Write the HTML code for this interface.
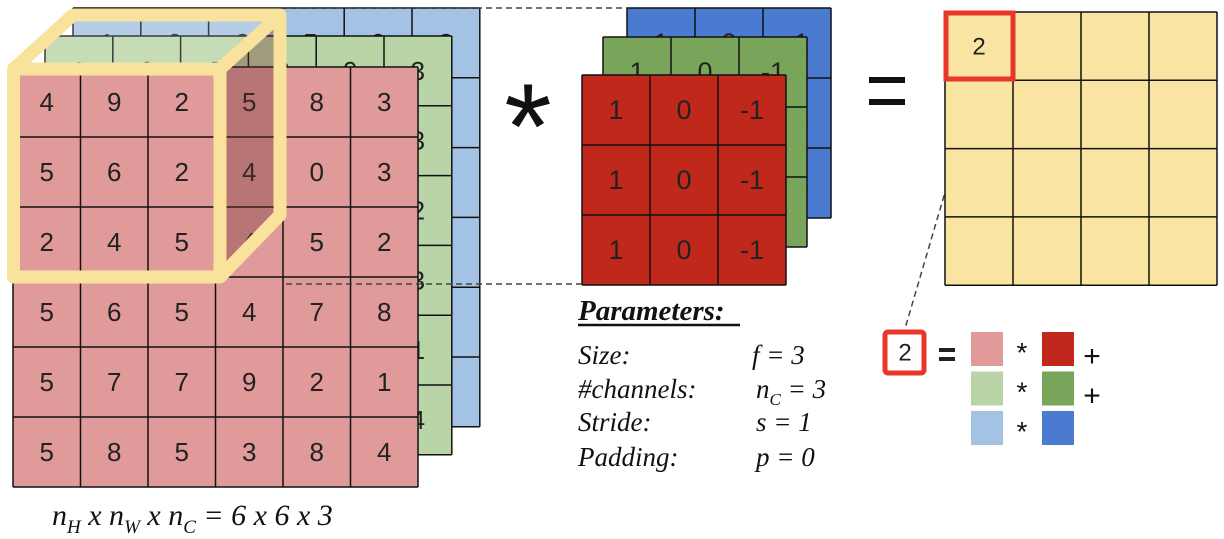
<!DOCTYPE html>
<html><head><meta charset="utf-8">
<style>
html,body{margin:0;padding:0;background:#fff;}
svg{display:block;}
.num{font-family:"Liberation Sans",sans-serif;fill:#222;text-anchor:middle;dominant-baseline:central;}
.ser{font-family:"Liberation Serif",serif;font-style:italic;fill:#111;}
</style></head>
<body>
<svg id="diagram" width="1224" height="539" viewBox="0 0 1224 539" xmlns="http://www.w3.org/2000/svg">
  <g id="layers"></g>
  <g id="cube">
    <polygon points="13,69 73,15 280,15 220,69" fill="rgba(255,255,255,0.18)"/>
    <polygon points="220,69 280,15 280,215 220,277" fill="rgba(110,50,50,0.35)"/>
    <g fill="none" stroke="#f9e29c" stroke-width="13" stroke-linejoin="round">
      <rect x="13.5" y="69" width="206.5" height="208"/>
      <polyline points="13.5,69 73,15 280,15 280,215 220,277"/>
      <line x1="220" y1="69" x2="280" y2="15"/>
    </g>
  </g>
  <g id="dashes" stroke="#444" stroke-width="1.5" stroke-dasharray="6,4" fill="none">
    <line x1="286" y1="8" x2="627" y2="8"/>
    <line x1="286" y1="284" x2="582" y2="284"/>
    <line x1="978" y1="80" x2="904" y2="332"/>
  </g>
  <text x="528" y="168" font-family="Liberation Sans,sans-serif" font-size="122" text-anchor="middle" fill="#111">*</text>
  <g fill="#111">
    <rect x="869" y="77" width="36" height="6"/><rect x="869" y="99" width="36" height="6"/>
  </g>
  <g id="output"></g>
  <rect x="946" y="13" width="67" height="66" fill="none" stroke="#e8372a" stroke-width="5"/>
  <text class="num" x="979" y="47" font-size="24">2</text>

  <g>
    <text class="ser" x="578" y="320" font-size="29" font-weight="bold">Parameters:</text>
    <line x1="578" y1="325" x2="740" y2="325" stroke="#111" stroke-width="2.5"/>
    <text class="ser" x="578" y="364" font-size="27">Size:</text>
    <text class="ser" x="752" y="364" font-size="27">f = 3</text>
    <text class="ser" x="578" y="398" font-size="27">#channels:</text>
    <text class="ser" x="756" y="398" font-size="27">n<tspan font-size="17" dy="7">C</tspan><tspan dy="-7"> = 3</tspan></text>
    <text class="ser" x="578" y="431" font-size="27">Stride:</text>
    <text class="ser" x="756" y="431" font-size="27">s = 1</text>
    <text class="ser" x="578" y="466" font-size="27">Padding:</text>
    <text class="ser" x="756" y="466" font-size="27">p = 0</text>
  </g>

  <text class="ser" x="52" y="525" font-size="30">n<tspan font-size="19" dy="8">H</tspan><tspan dy="-8"> x n</tspan><tspan font-size="19" dy="8">W</tspan><tspan dy="-8"> x n</tspan><tspan font-size="19" dy="8">C</tspan><tspan dy="-8"> =  6 x 6 x 3</tspan></text>

  <g>
    <rect x="885" y="332" width="39" height="41" rx="3" fill="#fff" stroke="#e8372a" stroke-width="5"/>
    <text class="num" x="905" y="353" font-size="24">2</text>
    <rect x="939" y="348" width="16" height="4" fill="#222"/><rect x="939" y="357" width="16" height="4" fill="#222"/>
    <g id="formula"></g>
  </g>
</svg>
<script>
const inputRed = [[4,9,2,5,8,3],[5,6,2,4,0,3],[2,4,5,4,5,2],[5,6,5,4,7,8],[5,7,7,9,2,1],[5,8,5,3,8,4]];
const inputGreen = [[1,0,2,3,0,3],[3,1,2,0,1,3],[2,2,1,0,1,2],[1,3,0,2,1,3],[0,1,3,2,2,1],[2,0,1,3,1,4]];
const inputBlue = [[1,0,0,5,0,3],[2,1,3,1,0,1],[0,2,1,2,3,2],[1,0,2,3,1,3],[3,1,0,1,2,0],[1,2,3,0,1,4]];
const filterRed = [[1,0,-1],[1,0,-1],[1,0,-1]];
const filterGreen = [[1,0,-1],[1,0,-1],[1,0,-1]];
const filterBlue = [[1,0,-1],[1,0,-1],[1,0,-1]];
const outputSize = 4;

const NS = 'http://www.w3.org/2000/svg';
function mk(tag, attrs, parent){const e=document.createElementNS(NS,tag);for(const k in attrs)e.setAttribute(k,attrs[k]);parent.appendChild(e);return e;}

function grid(parent, name, data, x0, y0, cw, ch, fill, fontSize){
  const g = mk('g',{},parent);
  
  
  const rows=data.length, cols=data[0].length;
  mk('rect',{x:x0,y:y0,width:cols*cw,height:rows*ch,fill:fill},g);
  for(let r=0;r<rows;r++)for(let c=0;c<cols;c++){
    const t=mk('text',{x:x0+(c+0.5)*cw,y:y0+(r+0.5)*ch,'class':'num','font-size':fontSize},g);
    
    
    t.textContent=data[r][c];
  }
  for(let c=0;c<=cols;c++) mk('line',{x1:x0+c*cw,y1:y0,x2:x0+c*cw,y2:y0+rows*ch,stroke:'#111','stroke-width':1.5},g);
  for(let r=0;r<=rows;r++) mk('line',{x1:x0,y1:y0+r*ch,x2:x0+cols*cw,y2:y0+r*ch,stroke:'#111','stroke-width':1.5},g);
}
const L=document.getElementById('layers');
grid(L,'input-blue-channel',inputBlue,73,8,67.8,69.8,'#a4c2e4',26);
grid(L,'input-green-channel',inputGreen,45,36,67.8,69.8,'#b9d5a8',26);
grid(L,'input-red-channel',inputRed,13,67,67.5,70,'#e09a9a',26);
grid(L,'filter-blue-channel',filterBlue,627,8,68,70,'#4a7bd0',27);
grid(L,'filter-green-channel',filterGreen,603,37,68,70,'#79a55a',27);
grid(L,'filter-red-channel',filterRed,582,75,68,70,'#c0281c',27);

const O=document.getElementById('output');
const empty=[];for(let r=0;r<outputSize;r++){empty.push([]);for(let c=0;c<outputSize;c++)empty[r].push('');}
grid(O,'output-cells',empty,945,12,68,68.3,'#f9e4a2',22);

const F=document.getElementById('formula');
const inCols=['#e09a9a','#b9d5a8','#a4c2e4'], fCols=['#c0281c','#79a55a','#4a7bd0'];
for(let i=0;i<3;i++){
  const y=332+i*39.5;
  const a=mk('rect',{x:971,y:y,width:32,height:34,fill:inCols[i]},F);
  
  
  const s=mk('text',{x:1022,y:y+30,'font-family':'Liberation Sans,sans-serif','font-size':28,'text-anchor':'middle',fill:'#111'},F);
  s.textContent='*';
  const b=mk('rect',{x:1042,y:y,width:32,height:34,fill:fCols[i]},F);
  
  
  if(i<2){
    const p=mk('text',{x:1092,y:y+34,'font-family':'Liberation Sans,sans-serif','font-size':30,'text-anchor':'middle',fill:'#111'},F);
    p.textContent='+';
  }
}
</script>
</body></html>
